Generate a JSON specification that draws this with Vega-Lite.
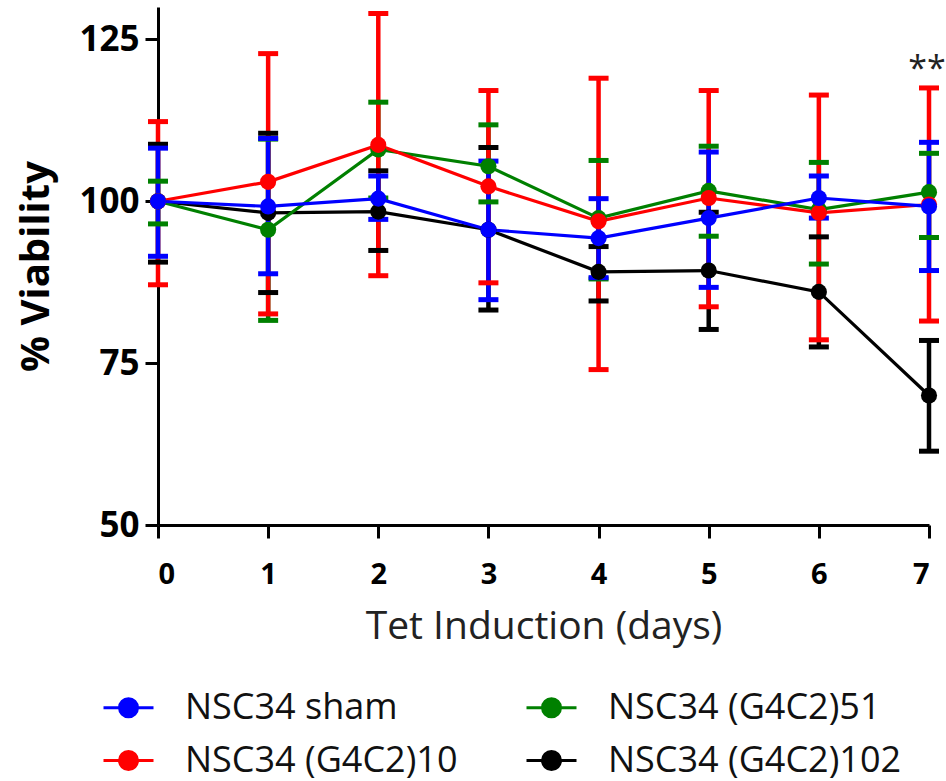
{
  "$schema": "https://vega.github.io/schema/vega-lite/v6.json",
  "width": 771,
  "height": 518,
  "autosize": {"type": "none"},
  "padding": {"left": 158, "top": 7, "right": 17, "bottom": 256},
  "background": "white",
  "config": {
    "view": {"stroke": null},
    "axis": {"grid": false},
    "legend": {
      "title": null, "orient": "none", "legendX": -56, "legendY": 674,
      "columns": 2, "columnPadding": 62, "rowPadding": 8,
      "symbolType": "M-1,0L1,0M0.36,0A0.36,0.36,0,1,1,-0.36,0A0.36,0.36,0,1,1,0.36,0Z",
      "symbolSize": 2500, "symbolStrokeWidth": 3, "symbolOpacity": 1,
      "labelFont": "Open Sans", "labelFontSize": 36, "labelColor": "#111",
      "labelOffset": 30, "labelLimit": 600
    }
  },
  "datasets": {
    "pts": [
      {"series": "NSC34 (G4C2)102", "day": 0, "mean": 100, "lo": 90.6, "hi": 108.8},
      {"series": "NSC34 (G4C2)102", "day": 1, "mean": 98.2, "lo": 85.9, "hi": 110.5},
      {"series": "NSC34 (G4C2)102", "day": 2, "mean": 98.4, "lo": 92.4, "hi": 104.7},
      {"series": "NSC34 (G4C2)102", "day": 3, "mean": 95.6, "lo": 83.2, "hi": 108.3},
      {"series": "NSC34 (G4C2)102", "day": 4, "mean": 89.1, "lo": 84.6, "hi": 93.0},
      {"series": "NSC34 (G4C2)102", "day": 5, "mean": 89.3, "lo": 80.2, "hi": 98.3},
      {"series": "NSC34 (G4C2)102", "day": 6, "mean": 86.0, "lo": 77.5, "hi": 94.5},
      {"series": "NSC34 (G4C2)102", "day": 7, "mean": 70.0, "lo": 61.4, "hi": 78.5},
      {"series": "NSC34 (G4C2)51", "day": 0, "mean": 100, "lo": 96.5, "hi": 103.1},
      {"series": "NSC34 (G4C2)51", "day": 1, "mean": 95.6, "lo": 81.6, "hi": 109.6},
      {"series": "NSC34 (G4C2)51", "day": 2, "mean": 108.0, "lo": 100.5, "hi": 115.3},
      {"series": "NSC34 (G4C2)51", "day": 3, "mean": 105.4, "lo": 99.9, "hi": 111.8},
      {"series": "NSC34 (G4C2)51", "day": 4, "mean": 97.4, "lo": 88.0, "hi": 106.3},
      {"series": "NSC34 (G4C2)51", "day": 5, "mean": 101.6, "lo": 94.6, "hi": 108.5},
      {"series": "NSC34 (G4C2)51", "day": 6, "mean": 98.7, "lo": 90.3, "hi": 106.0},
      {"series": "NSC34 (G4C2)51", "day": 7, "mean": 101.4, "lo": 94.4, "hi": 107.4},
      {"series": "NSC34 (G4C2)10", "day": 0, "mean": 100, "lo": 87.1, "hi": 112.3},
      {"series": "NSC34 (G4C2)10", "day": 1, "mean": 103.0, "lo": 82.6, "hi": 122.8},
      {"series": "NSC34 (G4C2)10", "day": 2, "mean": 108.7, "lo": 88.5, "hi": 129.0},
      {"series": "NSC34 (G4C2)10", "day": 3, "mean": 102.3, "lo": 87.4, "hi": 117.1},
      {"series": "NSC34 (G4C2)10", "day": 4, "mean": 96.9, "lo": 74.0, "hi": 119.0},
      {"series": "NSC34 (G4C2)10", "day": 5, "mean": 100.5, "lo": 83.7, "hi": 117.1},
      {"series": "NSC34 (G4C2)10", "day": 6, "mean": 98.2, "lo": 78.6, "hi": 116.4},
      {"series": "NSC34 (G4C2)10", "day": 7, "mean": 99.5, "lo": 81.5, "hi": 117.5},
      {"series": "NSC34 sham", "day": 0, "mean": 100, "lo": 91.5, "hi": 108.2},
      {"series": "NSC34 sham", "day": 1, "mean": 99.2, "lo": 88.8, "hi": 109.7},
      {"series": "NSC34 sham", "day": 2, "mean": 100.4, "lo": 97.2, "hi": 103.9},
      {"series": "NSC34 sham", "day": 3, "mean": 95.6, "lo": 84.8, "hi": 106.2},
      {"series": "NSC34 sham", "day": 4, "mean": 94.3, "lo": 88.2, "hi": 100.4},
      {"series": "NSC34 sham", "day": 5, "mean": 97.4, "lo": 86.7, "hi": 107.6},
      {"series": "NSC34 sham", "day": 6, "mean": 100.5, "lo": 97.4, "hi": 103.9},
      {"series": "NSC34 sham", "day": 7, "mean": 99.2, "lo": 89.3, "hi": 109.1}
    ],
    "ann": [{"day": 7, "v": 121.7, "label": "**"}]
  },
  "encoding": {
    "x": {
      "field": "day", "type": "quantitative",
      "scale": {"domain": [0, 7], "nice": false, "zero": false},
      "axis": {
        "values": [0, 1, 2, 3, 4, 5, 6, 7], "format": "d",
        "title": "Tet Induction (days)",
        "domainColor": "#000", "domainWidth": 3,
        "tickColor": "#000", "tickWidth": 3, "tickSize": 13,
        "labelFont": "Open Sans", "labelFontWeight": "bold", "labelFontSize": 29,
        "labelColor": "#000", "labelPadding": 22,
        "titleFont": "Open Sans", "titleFontWeight": "normal", "titleFontSize": 39,
        "titleColor": "#222", "titlePadding": 18
      }
    }
  },
  "layer": [
    {
      "data": {"name": "pts"},
      "mark": {"type": "rule", "strokeWidth": 4.5},
      "encoding": {
        "y": {
          "field": "lo", "type": "quantitative",
          "scale": {"domain": [50, 130], "nice": false, "zero": false},
          "axis": {
            "values": [50, 75, 100, 125],
            "title": "% Viability",
            "domainColor": "#000", "domainWidth": 3,
            "tickColor": "#000", "tickWidth": 3, "tickSize": 13,
            "labelFont": "Open Sans", "labelFontWeight": "bold", "labelFontSize": 35,
            "labelColor": "#000", "labelPadding": 6,
            "titleFont": "Open Sans", "titleFontWeight": "bold", "titleFontSize": 40,
            "titleColor": "#000", "titlePadding": 22
          }
        },
        "y2": {"field": "hi"},
        "color": {
          "field": "series", "type": "nominal",
          "scale": {
            "domain": ["NSC34 sham", "NSC34 (G4C2)10", "NSC34 (G4C2)51", "NSC34 (G4C2)102"],
            "range": ["#0000ff", "#ff0000", "#008000", "#000000"]
          }
        }
      }
    },
    {
      "data": {"name": "pts"},
      "mark": {"type": "tick", "orient": "horizontal", "size": 20, "thickness": 5, "opacity": 1},
      "encoding": {
        "y": {"field": "lo", "type": "quantitative"},
        "color": {"field": "series", "type": "nominal"}
      }
    },
    {
      "data": {"name": "pts"},
      "mark": {"type": "tick", "orient": "horizontal", "size": 20, "thickness": 5, "opacity": 1},
      "encoding": {
        "y": {"field": "hi", "type": "quantitative"},
        "color": {"field": "series", "type": "nominal"}
      }
    },
    {
      "data": {"name": "pts"},
      "mark": {"type": "line", "strokeWidth": 3.2},
      "encoding": {
        "y": {"field": "mean", "type": "quantitative"},
        "color": {"field": "series", "type": "nominal"}
      }
    },
    {
      "data": {"name": "pts"},
      "mark": {"type": "point", "shape": "circle", "size": 260, "filled": true, "opacity": 1},
      "encoding": {
        "y": {"field": "mean", "type": "quantitative"},
        "color": {"field": "series", "type": "nominal"}
      }
    },
    {
      "data": {"name": "ann"},
      "mark": {"type": "text", "font": "Open Sans", "fontSize": 34, "color": "#222", "dy": 9, "dx": -2},
      "encoding": {
        "y": {"field": "v", "type": "quantitative"},
        "text": {"field": "label"}
      }
    }
  ]
}
